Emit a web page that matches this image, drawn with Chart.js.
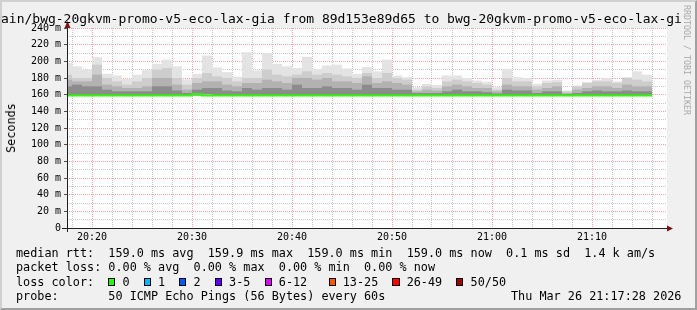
<!DOCTYPE html>
<html lang="en">
<head>
    <meta charset="UTF-8">
    <title>SmokePing latency</title>
    <script src="https://cdn.jsdelivr.net/npm/chart.js"></script>
    <style>
        body {
            margin: 0;
            background: #ffffff;
        }
        #wrap {
            position: relative;
            width: 697px;
            height: 310px;
            background: #f0f0f0;
            font-family: "DejaVu Sans Mono", monospace;
            color: #000;
            overflow: hidden;
        }
        #wrap::after {
            /* rrdtool style shaded frame */
            content: "";
            position: absolute;
            left: 0; top: 0;
            width: 697px; height: 310px;
            box-sizing: border-box;
            border-style: solid;
            border-width: 2px;
            border-color: #d0d0d0 #a0a0a0 #a0a0a0 #d0d0d0;
            pointer-events: none;
        }
        canvas {
            position: absolute;
            left: 0; top: 0;
        }
        .txt {
            position: absolute;
            white-space: pre;
            font-size: 11.8px;
            line-height: 14px;
        }
        #title {
            left: 1px;
            top: 11px;
            font-size: 13px;
            line-height: 15px;
        }
        #ylab {
            left: 10.5px;
            top: 127.5px;
            transform: translate(-50%, -50%) rotate(-90deg);
        }
        #mark {
            left: 686.5px;
            top: 60px;
            font-size: 8.3px;
            line-height: 10px;
            color: #a8a8a8;
            transform: translate(-50%, -50%) rotate(90deg);
        }
        .box {
            display: inline-block;
            width: 5.1px;
            height: 6px;
            border: 1px solid #000;
        }
    </style>
</head>
<body>
<div id="wrap">
    <canvas id="chart" width="697" height="310"></canvas>
    <div id="title" class="txt">ain/bwg-20gkvm-promo-v5-eco-lax-gia from 89d153e89d65 to bwg-20gkvm-promo-v5-eco-lax-gi</div>
    <div id="ylab" class="txt">Seconds</div>
    <div id="mark" class="txt">RRDTOOL / TOBI OETIKER</div>
    <div class="txt" style="left:16px; top:245.5px">median rtt:  159.0 ms avg  159.9 ms max  159.0 ms min  159.0 ms now  0.1 ms sd  1.4 k am/s</div>
    <div class="txt" style="left:16px; top:260px">packet loss: 0.00 % avg  0.00 % max  0.00 % min  0.00 % now</div>
    <div class="txt" style="left:16px; top:274.6px">loss color:  <span class="box" style="background:#26ff00"></span> 0  <span class="box" style="background:#00b8ff"></span> 1  <span class="box" style="background:#0059ff"></span> 2  <span class="box" style="background:#5e00ff"></span> 3-5  <span class="box" style="background:#dd00ff"></span> 6-12   <span class="box" style="background:#ff5500"></span> 13-25  <span class="box" style="background:#ff0000"></span> 26-49  <span class="box" style="background:#a00000"></span> 50/50</div>
    <div class="txt" style="left:16px; top:289.2px">probe:       50 ICMP Echo Pings (56 Bytes) every 60s</div>
    <div class="txt" style="left:511px; top:289.2px">Thu Mar 26 21:17:28 2026</div>
</div>

<script>
    // one sample per minute (start of each 60s step)
    const times = [
        '20:17','20:18','20:19','20:20','20:21','20:22','20:23','20:24','20:25','20:26',
        '20:27','20:28','20:29','20:30','20:31','20:32','20:33','20:34','20:35','20:36',
        '20:37','20:38','20:39','20:40','20:41','20:42','20:43','20:44','20:45','20:46',
        '20:47','20:48','20:49','20:50','20:51','20:52','20:53','20:54','20:55','20:56',
        '20:57','20:58','20:59','21:00','21:01','21:02','21:03','21:04','21:05','21:06',
        '21:07','21:08','21:09','21:10','21:11','21:12','21:13','21:14','21:15'
    ];

    // median rtt (ms)
    const rttMedian = [
        159,159,159,159,159,159,159,159,159,159,
        159,159,159,159,160.5,159,159,159,159,159,
        159,159,159,159,159,159,159,159,159,159,
        159,159,159,159,159,159,159,159,159,159,
        159,159,159,159,159,159,159,159,159,159,
        159,159,159,159,159,159,159,159,159
    ];

    // smoke: top of the slowest pings (ms)
    const rttMax = [
        198,194,190,205,185,183,179,184,189.5,197,
        202,194,178.5,185,207,192.5,187,181.5,211,189,
        210,197,194,192,205.5,191,195,196,191.5,185,
        193,188,202,183,181,169,173,171.5,183,183,
        180,177,175.5,169,191,181,180,173,177,178,
        165,171,175,178,180,176,181,188,184
    ];

    // smoke: upper band (ms)
    const rttUpper = [
        184,180,180,196,180,176,172,176,180,190,
        192,180,172,180,186,182,180,176,180,180,
        190,184,182,184,188,184,186,184,182,180,
        186,180,186,180,178,166,170,168,176,178,
        176,174,172,166,180,176,176,170,174,175,
        164,170,174,176,176,174,180,178,176
    ];

    // smoke: middle band (ms)
    const rttMid = [
        178,176,176,184,172,170,168,168,170,180,
        180,172,166,174,176,176,172,170,174,174,
        178,176,174,180,180,178,180,176,176,174,
        182,174,176,174,172,164,166,165,170,172,
        170,168,168,164,172,170,170,166,168,170,
        162,166,168,170,170,168,172,170,170
    ];

    // smoke: dense core (ms)
    const rttCore = [
        170,172,170,170,166,164,164,164,164,170,
        170,165,162,166,168,168,165,164,168,166,
        168,168,166,172,168,168,170,168,168,166,
        172,168,168,166,166,162,162,162,164,166,
        164,164,163,161.5,166,165,165,162,164,164,
        160.8,162,164,165,164,164,165,164,164
    ];

    const xTickLabels = ['20:20', '20:30', '20:40', '20:50', '21:00', '21:10'];

    const GRID = 'rgba(144,144,144,0.5)';
    const MGRID = 'rgba(224,80,80,0.5)';

    function toMin(t) {
        const p = t.split(':');
        return (parseInt(p[0], 10) - 20) * 60 + parseInt(p[1], 10);
    }

    function band(top) {
        return times.map((t, i) => ({x: toMin(t) + 0.5, y: [rttMedian[i], top[i]]}));
    }

    const medianLine = times.map((t, i) => ({x: toMin(t), y: rttMedian[i]}));
    medianLine.push({x: toMin(times[times.length - 1]) + 1, y: rttMedian[rttMedian.length - 1]});

    function smoke(label, data, color, order) {
        return {
            type: 'bar',
            label: label,
            data: data,
            backgroundColor: color,
            borderWidth: 0,
            barPercentage: 1,
            categoryPercentage: 1,
            grouped: false,
            inflateAmount: 0,
            clip: 0,
            order: order
        };
    }

    // white canvas behind the plot, axes + arrows on top
    const rrdFrame = {
        id: 'rrdFrame',
        beforeDraw(chart) {
            const a = chart.chartArea;
            const ctx = chart.ctx;
            ctx.save();
            ctx.fillStyle = '#ffffff';
            ctx.fillRect(a.left, a.top, a.right - a.left, a.bottom - a.top);
            ctx.restore();
        },
        afterDraw(chart) {
            const a = chart.chartArea;
            const ctx = chart.ctx;
            const yb = Math.round(a.bottom) + 0.5;
            const xl = Math.round(a.left) + 0.5;
            ctx.save();
            ctx.strokeStyle = '#202020';
            ctx.lineWidth = 1;
            ctx.beginPath();
            ctx.moveTo(a.left - 5, yb);
            ctx.lineTo(a.right + 1, yb);
            ctx.moveTo(xl, a.bottom + 4);
            ctx.lineTo(xl, a.top - 1);
            ctx.stroke();
            ctx.fillStyle = '#801010';
            ctx.beginPath();
            ctx.moveTo(a.right + 6, yb);
            ctx.lineTo(a.right, yb - 3);
            ctx.lineTo(a.right, yb + 3);
            ctx.closePath();
            ctx.fill();
            ctx.beginPath();
            ctx.moveTo(xl, a.top - 7);
            ctx.lineTo(xl - 3, a.top);
            ctx.lineTo(xl + 3, a.top);
            ctx.closePath();
            ctx.fill();
            ctx.restore();
        }
    };

    Chart.defaults.font.family = '"DejaVu Sans Mono", monospace';
    Chart.defaults.font.size = 10;
    Chart.defaults.color = '#000';

    new Chart(document.getElementById('chart'), {
        type: 'bar',
        data: {
            datasets: [
                {
                    type: 'line',
                    label: 'median rtt',
                    data: medianLine,
                    borderColor: '#26ff00',
                    borderWidth: 2,
                    pointRadius: 0,
                    stepped: 'after',
                    clip: 0,
                    order: 0
                },
                smoke('core', band(rttCore), '#8c8c8c', 1),
                smoke('mid', band(rttMid), '#b2b2b2', 2),
                smoke('upper', band(rttUpper), '#cdcdcd', 3),
                smoke('max', band(rttMax), '#e3e3e3', 4)
            ]
        },
        options: {
            responsive: false,
            animation: false,
            events: [],
            layout: {padding: {top: 28, right: 30, left: 0, bottom: 0}},
            plugins: {
                legend: {display: false},
                tooltip: {enabled: false}
            },
            scales: {
                x: {
                    type: 'linear',
                    min: 17.5,
                    max: 77.5,
                    offset: false,
                    z: 1,
                    afterBuildTicks: scale => {
                        const t = [];
                        for (let v = 18; v <= 76; v += 2) t.push({value: v});
                        scale.ticks = t;
                    },
                    afterFit: scale => { scale.height = 82; },
                    ticks: {
                        autoSkip: false,
                        maxRotation: 0,
                        padding: 3,
                        callback: v => (v % 10 === 0 ? xTickLabels[(v - 20) / 10] : '')
                    },
                    grid: {
                        offset: false,
                        drawTicks: false,
                        lineWidth: 1,
                        color: c => (c.tick && c.tick.value % 10 === 0 ? MGRID : GRID)
                    },
                    border: {display: false, dash: [1, 1]}
                },
                y: {
                    min: 0,
                    max: 240,
                    z: 1,
                    afterBuildTicks: scale => {
                        const t = [];
                        for (let v = 0; v <= 240; v += 10) t.push({value: v});
                        scale.ticks = t;
                    },
                    afterFit: scale => { scale.width = 67; },
                    ticks: {
                        autoSkip: false,
                        padding: 3,
                        callback: v => (v % 20 === 0 ? (v === 0 ? '0' : v + ' m') : '')
                    },
                    grid: {
                        drawTicks: true,
                        tickLength: 3,
                        lineWidth: 1,
                        color: c => (c.tick && c.tick.value === 0 ? 'rgba(0,0,0,0)' : (c.tick && c.tick.value % 20 === 0 ? MGRID : GRID)),
                        tickColor: c => (c.tick && c.tick.value % 20 === 0 ? '#505050' : 'rgba(0,0,0,0)')
                    },
                    border: {display: false, dash: [1, 1]}
                }
            }
        },
        plugins: [rrdFrame]
    });
</script>
</body>
</html>
